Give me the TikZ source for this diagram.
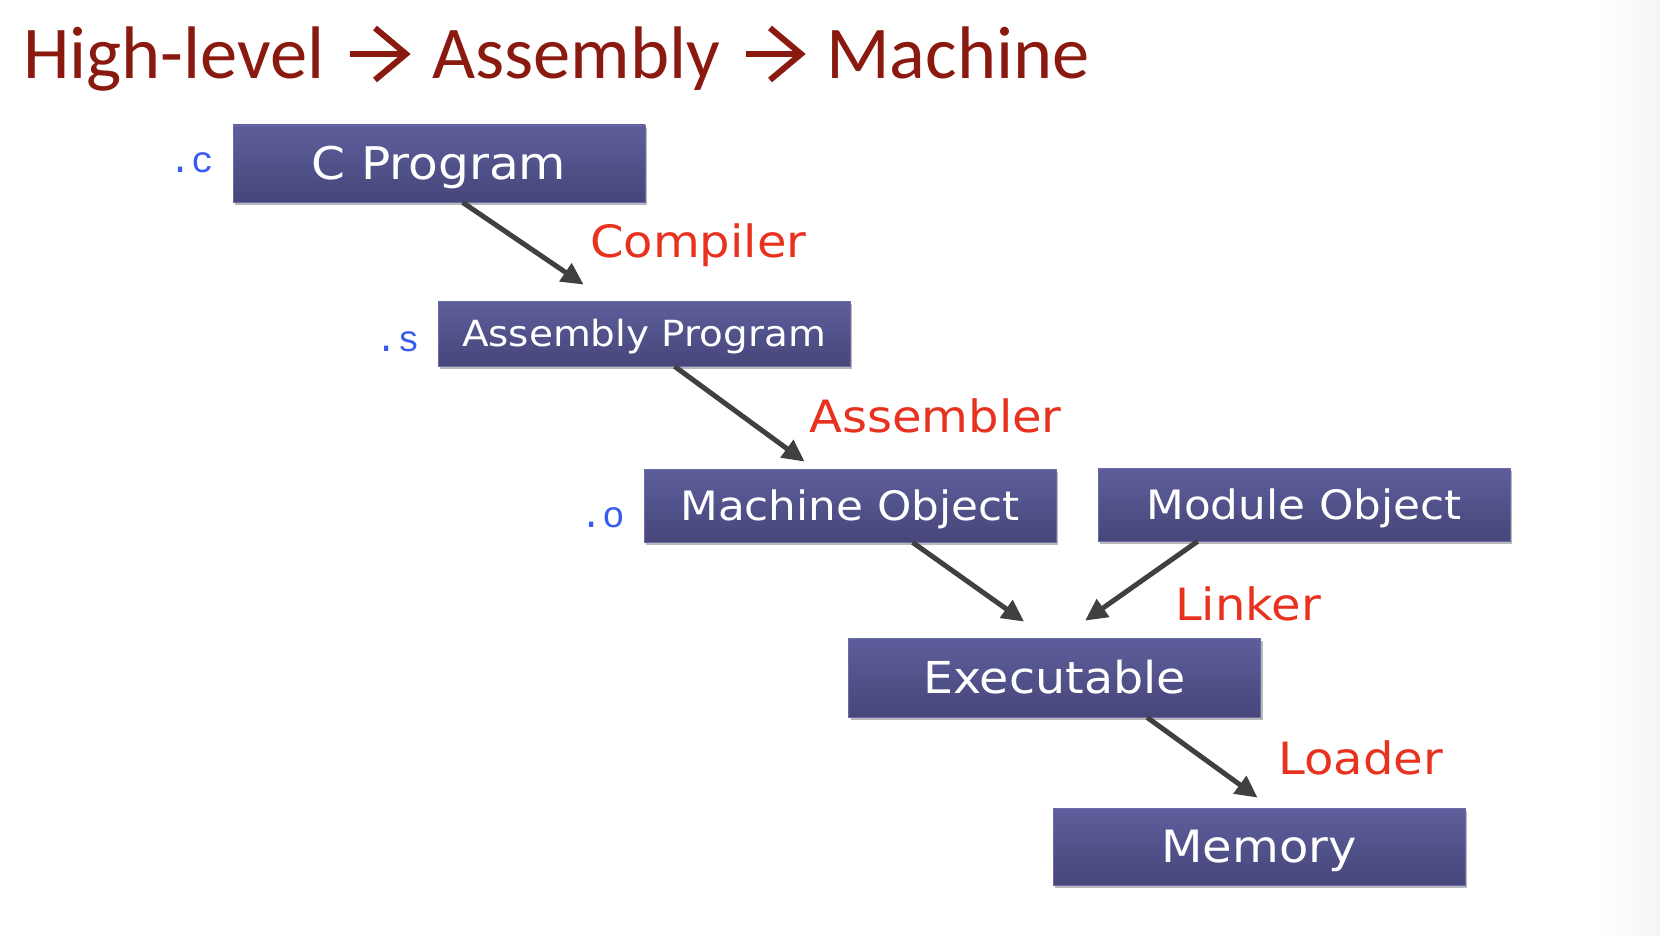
\documentclass[tikz,border=0pt]{standalone}
\usepackage{fontspec}
\usetikzlibrary{arrows.meta,shadows,calc}
\newfontfamily\titlefont{Carlito}
\newfontfamily\boxfont[FakeStretch=1.08]{DejaVu Sans}
\newfontfamily\extfont{Liberation Mono}
\definecolor{titlered}{HTML}{8A1A10}
\definecolor{labelred}{HTML}{E8321F}
\definecolor{boxtop}{HTML}{5E5E9C}
\definecolor{boxbot}{HTML}{46467A}
\definecolor{boxedge}{HTML}{6B6BA8}
\definecolor{extblue}{HTML}{3A5BF0}
\definecolor{arrowgray}{HTML}{404040}
\tikzset{
  stagebox/.style={rectangle, minimum width=412pt, inner sep=0pt,
    text depth=0pt,
    top color=boxtop, bottom color=boxbot, draw=boxedge, line width=0.8pt,
    text=white,
    drop shadow={shadow xshift=2pt, shadow yshift=-3pt, opacity=0.28, fill=black}},
  boxtext/.style={font=\boxfont\fontsize{#1}{#1}\selectfont, text height=0.73*#1pt},
  flow/.style={draw=arrowgray, line width=5pt,
    -{Triangle[length=22pt,width=21pt]}},
  toollabel/.style={anchor=base west, inner sep=0pt, text=labelred,
    font=\boxfont\fontsize{44.5}{50}\selectfont},
  extlabel/.style={anchor=base west, inner sep=0pt, text=extblue,
    font=\extfont\fontsize{37}{42}\selectfont},
  titleword/.style={anchor=base west, inner sep=0pt, text=titlered,
    font=\titlefont\fontsize{74.5}{88}\selectfont},
  titleline/.style={draw=titlered, line width=5.5pt, line cap=butt},
  titlehead/.style={draw=titlered, line width=6pt, line join=miter, line cap=butt}
}
\begin{document}
\begin{tikzpicture}[x=1pt,y=-1pt]
\useasboundingbox (0,0) rectangle (1660,936);
\shade[left color=white, right color=black!4] (1600,0) rectangle (1660,936);

% title
\node[titleword] (t1) at (23,79) {High-level};
\node[titleword] (t2) at (432,79) {Assembly};
\node[titleword] (t3) at (826,79) {Machine};
\coordinate (a1s) at ($(t1.base east)+(25,-25)$);
\coordinate (a1e) at ($(t2.base west)+(-26,-25)$);
\coordinate (a2s) at ($(t2.base east)+(26,-25)$);
\coordinate (a2e) at ($(t3.base west)+(-25,-25)$);
\draw[titleline] (a1s) -- (a1e);
\draw[titlehead] ($(a1e)+(-31,-26)$) -- (a1e) -- ($(a1e)+(-31,26)$);
\draw[titleline] (a2s) -- (a2e);
\draw[titlehead] ($(a2e)+(-31,-26)$) -- (a2e) -- ($(a2e)+(-31,26)$);

% boxes
\node[stagebox, minimum height=77pt, boxtext=45] (cprog) at (439,163.5) {C Program};
\node[stagebox, minimum height=65pt, boxtext=36] (asm) at (644,333.5) {Assembly Program};
\node[stagebox, minimum height=73pt, boxtext=40.5] (mach) at (850,505.5) {Machine Object};
\node[stagebox, minimum height=73pt, boxtext=40.5] (mod) at (1304,504.5) {Module Object};
\node[stagebox, minimum height=79pt, boxtext=44] (exe) at (1054.5,677.5) {Executable};
\node[stagebox, minimum height=77pt, boxtext=44.5] (mem) at (1259,846.5) {Memory};

\node[extlabel] (extc) at (169,173) {.c};
\node[extlabel] (exts) at (375,351) {.s};
\node[extlabel] (exto) at (580,527) {.o};

\coordinate (e1) at ($(asm.north west)+(146,-16)$);
\coordinate (e2) at ($(mach.north west)+(161,-7)$);
\coordinate (e3) at ($(exe.north west)+(176,-16)$);
\coordinate (e4) at ($(exe.north west)+(237,-17)$);
\coordinate (e5) at ($(mem.north west)+(205,-10)$);

\draw[flow] ($(cprog.south west)+(230,0)$) -- (e1);
\draw[flow] ($(asm.south west)+(237,0)$) -- (e2);
\draw[flow] ($(mach.south west)+(269,0)$) -- (e3);
\draw[flow] ($(mod.south west)+(100,0)$) -- (e4);
\draw[flow] ($(exe.south west)+(299,0)$) -- (e5);

\node[toollabel] (compiler) at (590,258) {Compiler};
\node[toollabel] (assembler) at (809,432) {Assembler};
\node[toollabel] (linker) at (1175,620) {Linker};
\node[toollabel] (loader) at (1278,774) {Loader};
\end{tikzpicture}
\end{document}
